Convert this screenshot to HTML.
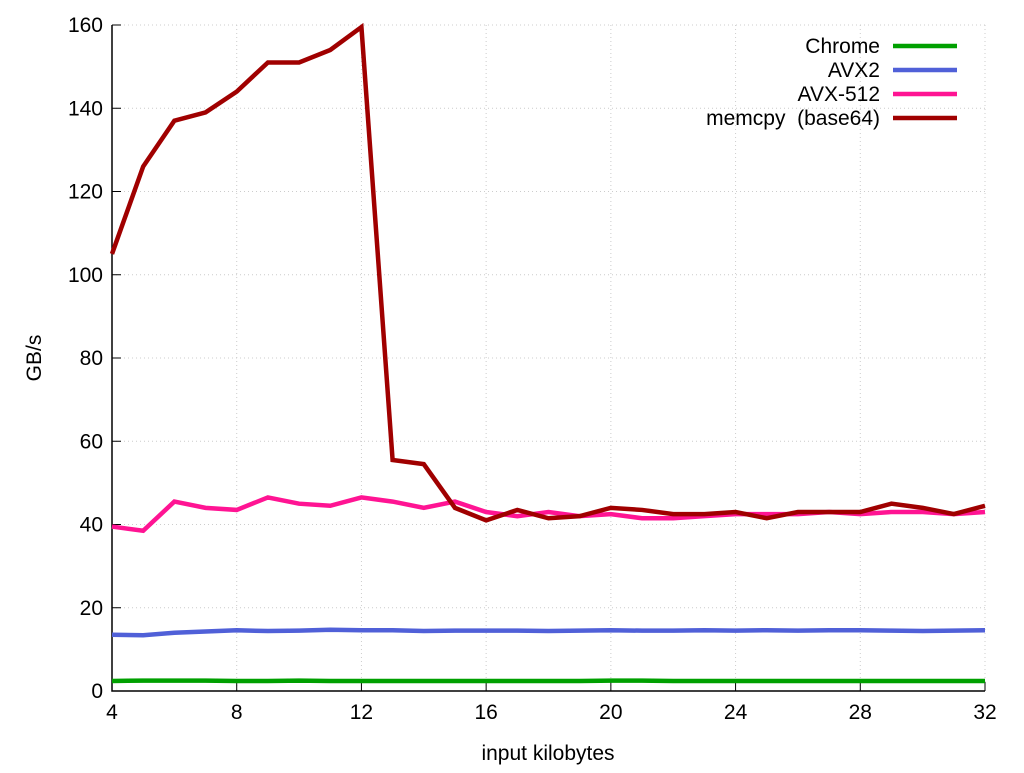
<!DOCTYPE html>
<html><head><meta charset="utf-8"><style>
body{margin:0;background:#fff;}
svg text{font-family:"Liberation Sans",sans-serif;fill:#000;}
</style></head><body>
<svg width="1024" height="768" id="c">
</svg>
<script>
const xValues=[4,5,6,7,8,9,10,11,12,13,14,15,16,17,18,19,20,21,22,23,24,25,26,27,28,29,30,31,32];
const chrome=[2.4,2.5,2.5,2.5,2.4,2.4,2.5,2.4,2.4,2.4,2.4,2.4,2.4,2.4,2.4,2.4,2.5,2.5,2.4,2.4,2.4,2.4,2.4,2.4,2.4,2.4,2.4,2.4,2.4];
const avx2=[13.5,13.4,14,14.3,14.6,14.4,14.5,14.7,14.6,14.6,14.4,14.5,14.5,14.5,14.4,14.5,14.6,14.5,14.5,14.6,14.5,14.6,14.5,14.6,14.6,14.5,14.4,14.5,14.6];
const avx512=[39.5,38.5,45.5,44,43.5,46.5,45,44.5,46.5,45.5,44,45.5,43,42,43,42,42.5,41.5,41.5,42,42.5,42.5,42.5,43,42.5,43,43,42.5,43];
const memcpy=[105,126,137,139,144,151,151,154,159.5,55.5,54.5,44,41,43.5,41.5,42,44,43.5,42.5,42.5,43,41.5,43,43,43,45,44,42.5,44.5];
const xTicks=[4,8,12,16,20,24,28,32];
const yTicks=[0,20,40,60,80,100,120,140,160];
const seriesNames=["Chrome","AVX2","AVX-512","memcpy  (base64)"];
const seriesColors=["#00a000","#5060d8","#ff1493","#a00000"];
const seriesData=[chrome,avx2,avx512,memcpy];
const L=112,R=985,T=25,B=691;
const sx=v=>L+(v-4)/28*(R-L);
const sy=v=>B-v/160*(B-T);
const svg=document.getElementById('c');
const NS='http://www.w3.org/2000/svg';
function mk(t,a,txt){const e=document.createElementNS(NS,t);for(const k in a)e.setAttribute(k,a[k]);if(txt!==undefined)e.textContent=txt;svg.appendChild(e);return e;}
xTicks.forEach(v=>{
 const g=mk('line',{x1:sx(v),x2:sx(v),y1:T,y2:B,stroke:'#ccc','stroke-dasharray':'1,3'});
 
 
 mk('line',{x1:sx(v),x2:sx(v),y1:B,y2:B-9,stroke:'#000'});
 const t=mk('text',{x:sx(v),y:B+28,'text-anchor':'middle','font-size':21},v);
 
 
});
yTicks.forEach(v=>{
 const g=mk('line',{x1:L,x2:R,y1:sy(v),y2:sy(v),stroke:'#ccc','stroke-dasharray':'1,3'});
 
 
 mk('line',{x1:L,x2:L+9,y1:sy(v),y2:sy(v),stroke:'#000'});
 const t=mk('text',{x:L-9,y:sy(v)+7,'text-anchor':'end','font-size':21},v);
 
 
});
const ax=mk('polyline',{points:`${L},${T} ${L},${B} ${R},${B}`,fill:'none',stroke:'#000','stroke-width':1.5});


seriesData.forEach((d,i)=>{
 const p=mk('polyline',{points:d.map((v,j)=>sx(xValues[j])+','+sy(v)).join(' '),fill:'none',stroke:seriesColors[i],'stroke-width':4.5,'stroke-linejoin':'miter'});
 
 
 const ly=46+i*24;
 const t=mk('text',{x:880,y:ly+7,'text-anchor':'end','font-size':21},seriesNames[i]);
 
 
 t.style.whiteSpace='pre';
 const ll=mk('line',{x1:893,x2:957,y1:ly,y2:ly,stroke:seriesColors[i],'stroke-width':4.5});
 
 
});
const xt=mk('text',{x:548,y:760,'text-anchor':'middle','font-size':21},'input kilobytes');


const yt=mk('text',{x:0,y:0,'text-anchor':'middle','font-size':21,transform:'translate(41,358) rotate(-90)'},'GB/s');


</script>
</body></html>
